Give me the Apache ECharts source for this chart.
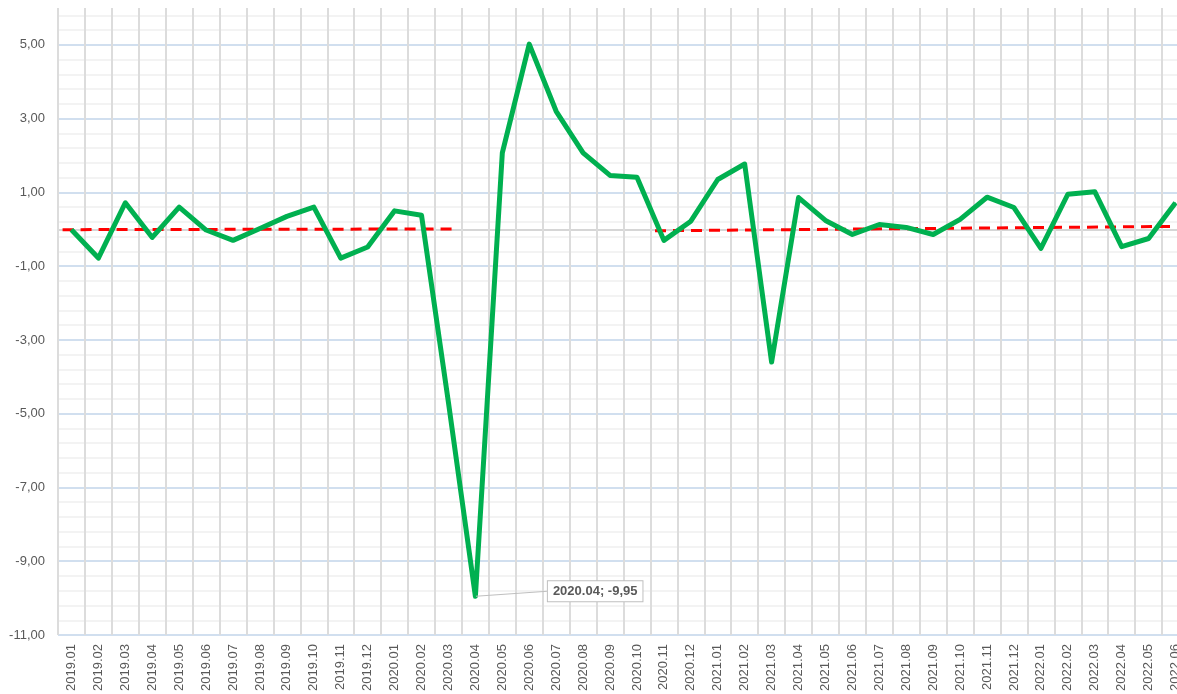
<!DOCTYPE html>
<html lang="en">

<head>
    <meta charset="UTF-8">
    <title>Monthly change</title>
    <script src="https://cdn.jsdelivr.net/npm/echarts@6/dist/echarts.min.js"></script>
    <style>
        * {
            margin: 0;
            padding: 0
        }

        html,
        body {
            width: 100%;
            height: 100%;
            background: #fff;
            overflow: hidden;
        }

        /* wider than the window: the last month is cut at the right edge */
        #main {
            width: 1189px;
            height: 694px;
        }
    </style>
</head>

<body>
    <div id="main"></div>
    <script type="text/javascript">
        // months on the category axis
        var months = [
            '2019.01', '2019.02', '2019.03', '2019.04', '2019.05', '2019.06', '2019.07', '2019.08', '2019.09', '2019.10', '2019.11', '2019.12',
            '2020.01', '2020.02', '2020.03', '2020.04', '2020.05', '2020.06', '2020.07', '2020.08', '2020.09', '2020.10', '2020.11', '2020.12',
            '2021.01', '2021.02', '2021.03', '2021.04', '2021.05', '2021.06', '2021.07', '2021.08', '2021.09', '2021.10', '2021.11', '2021.12',
            '2022.01', '2022.02', '2022.03', '2022.04', '2022.05', '2022.06'
        ];
        // monthly values (green line)
        var values = [
            -0.01, -0.78, 0.72, -0.22, 0.60, -0.02, -0.30, 0.02, 0.35, 0.60, -0.78, -0.48,
            0.50, 0.38, -4.70, -9.95, 2.07, 5.02, 3.20, 2.07, 1.46, 1.41, -0.30, 0.22,
            1.35, 1.77, -3.60, 0.86, 0.24, -0.14, 0.13, 0.05, -0.14, 0.27, 0.87, 0.59,
            -0.52, 0.95, 1.02, -0.47, -0.25, 0.72
        ];
        // trend lines: [month index, value] at both ends
        var trendPre = [[-0.33, -0.01], [14.33, 0.01]];
        var trendPost = [[21.67, -0.04], [41.33, 0.08]];
        // value axis
        var yMin = -11, yMax = 6, yStep = 2;
        var minIdx = 15; // annotated point

        function fmt(v) {
            return v.toFixed(2).replace('.', ',');
        }

        var myChart = echarts.init(document.getElementById('main'));
        var option = {
            animation: false,
            backgroundColor: '#fff',
            grid: { left: 58, right: 0, top: 8, bottom: 57 },
            xAxis: [
                {
                    type: 'category',
                    data: months,
                    boundaryGap: true,
                    axisLine: { show: false },
                    axisTick: { show: false },
                    axisLabel: {
                        rotate: 90,
                        interval: 0,
                        margin: 9,
                        color: '#595959',
                        fontFamily: 'Liberation Sans',
                        fontSize: 13
                    },
                    splitLine: {
                        show: true,
                        interval: 0,
                        lineStyle: { color: '#dcdcdc', width: 2 }
                    },
                    z: 2
                },
                {
                    type: 'value',
                    show: false,
                    min: -0.5,
                    max: months.length - 0.5
                }
            ],
            yAxis: [
                {
                    type: 'value',
                    min: yMin,
                    max: yMax,
                    interval: yStep,
                    axisLine: { show: false },
                    axisTick: { show: false },
                    axisLabel: {
                        margin: 13,
                        color: '#595959',
                        fontFamily: 'Liberation Sans',
                        fontSize: 13,
                        showMaxLabel: false,
                        formatter: function (v) {
                            return v === yMax ? '' : fmt(v);
                        }
                    },
                    splitLine: {
                        show: true,
                        showMaxLine: false,
                        lineStyle: { color: '#c6d8ee', width: 1.5 }
                    },
                    z: 1
                },
                {
                    // minor grid
                    type: 'value',
                    position: 'left',
                    min: yMin,
                    max: yMax,
                    interval: 0.4,
                    axisLine: { show: false },
                    axisTick: { show: false },
                    axisLabel: { show: false },
                    splitLine: {
                        show: true,
                        showMaxLine: false,
                        lineStyle: { color: '#efefef', width: 1.5 }
                    },
                    z: 0
                }
            ],
            series: [
                {
                    // horizontal axis line at zero
                    name: 'zero',
                    type: 'line',
                    data: [],
                    markLine: {
                        silent: true,
                        symbol: 'none',
                        z: 1,
                        label: { show: false },
                        lineStyle: { color: '#d6d6d6', width: 2, type: 'solid' },
                        data: [{ yAxis: 0 }]
                    },
                    z: 1
                },
                {
                    name: 'trend 2019',
                    type: 'line',
                    xAxisIndex: 1,
                    yAxisIndex: 0,
                    data: trendPre,
                    showSymbol: false,
                    lineStyle: { color: '#ff0000', width: 3, type: [11, 7] },
                    z: 3
                },
                {
                    name: 'trend 2021',
                    type: 'line',
                    xAxisIndex: 1,
                    yAxisIndex: 0,
                    data: trendPost,
                    showSymbol: false,
                    lineStyle: { color: '#ff0000', width: 3, type: [11, 7] },
                    z: 3
                },
                {
                    name: 'value',
                    type: 'line',
                    xAxisIndex: 0,
                    yAxisIndex: 0,
                    data: values.map(function (v, i) {
                        if (i !== minIdx) return v;
                        return {
                            value: v,
                            label: {
                                show: true,
                                position: 'right',
                                distance: 5,
                                formatter: months[i] + '; ' + fmt(v),
                                color: '#595959',
                                fontFamily: 'Liberation Sans',
                                fontWeight: 'bold',
                                fontSize: 13,
                                backgroundColor: '#fff',
                                borderColor: '#bfbfbf',
                                borderWidth: 1,
                                padding: [4, 5, 3, 5]
                            },
                            labelLine: {
                                show: true,
                                lineStyle: { color: '#bfbfbf', width: 1 }
                            }
                        };
                    }),
                    showSymbol: true,
                    showAllSymbol: true,
                    symbol: 'circle',
                    symbolSize: 1,
                    itemStyle: { color: '#00b050' },
                    lineStyle: { color: '#00b050', width: 5, join: 'round' },
                    labelLayout: { dx: 67, dy: -5 },
                    labelLine: { show: true, lineStyle: { color: '#bfbfbf', width: 1 } },
                    z: 4
                }
            ]
        };
        myChart.setOption(option);
    </script>
</body>

</html>
